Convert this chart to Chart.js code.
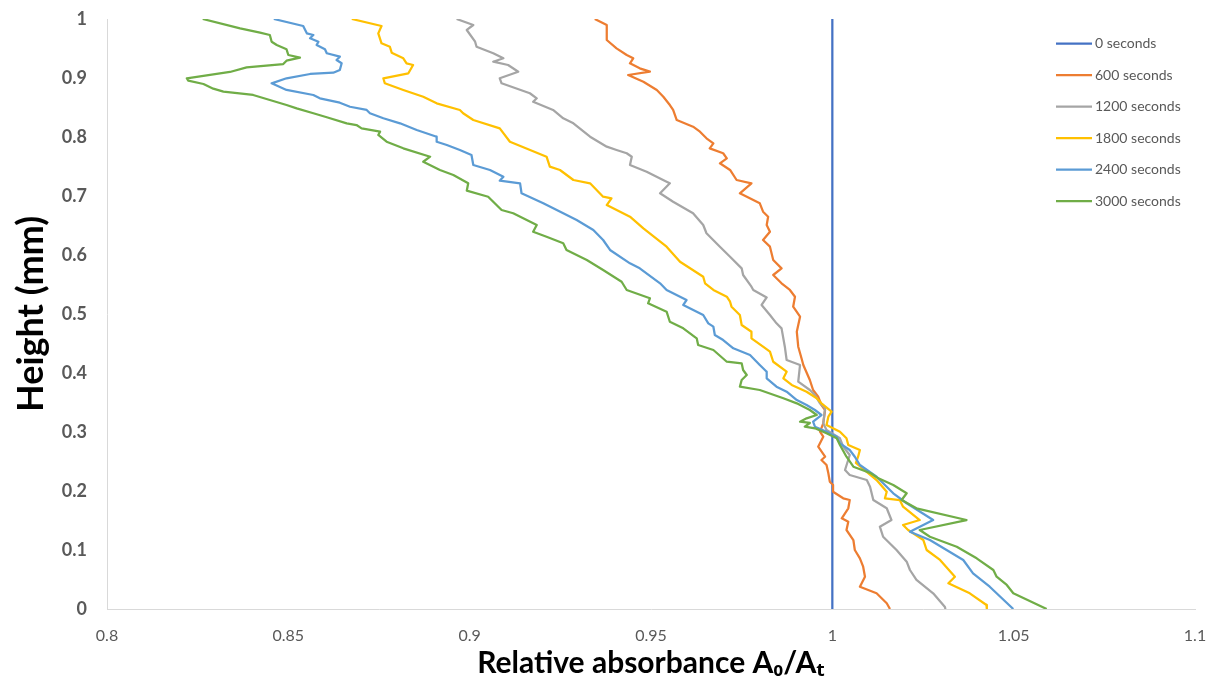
<!DOCTYPE html>
<html>
<head>
<meta charset="utf-8">
<title>Relative absorbance profiles</title>
<script src="https://cdn.jsdelivr.net/npm/chart.js@4.4.1/dist/chart.umd.min.js"></script>
<style>
  html, body { margin: 0; padding: 0; background: #ffffff; }
  #chart { display: block; }
</style>
</head>
<body>
<canvas id="chart" width="1215" height="682"></canvas>
<script>
// Each series: [relative absorbance A0/At, height (mm)] pairs, top to bottom.
const seriesLabels = ['0 seconds', '600 seconds', '1200 seconds', '1800 seconds', '2400 seconds', '3000 seconds'];
const seriesColors = ['#4472C4', '#ED7D31', '#A5A5A5', '#FFC000', '#5B9BD5', '#70AD47'];

const xTickValues = [0.8, 0.85, 0.9, 0.95, 1, 1.05, 1.1];
const yTickValues = [0, 0.1, 0.2, 0.3, 0.4, 0.5, 0.6, 0.7, 0.8, 0.9, 1];

const t0 = [[1, 1], [1, 0]];

const t600 = [
  [0.9345,1.0],[0.9378,0.9898],[0.9378,0.9644],[0.9405,0.9503],[0.9433,0.9390],[0.9451,0.9334],
  [0.9442,0.9249],[0.9469,0.9164],[0.9497,0.9107],[0.9437,0.9051],[0.9479,0.8937],[0.9516,0.8797],
  [0.9534,0.8683],[0.9552,0.8542],[0.9561,0.8458],[0.9571,0.8288],[0.9616,0.8175],[0.9635,0.8090],
  [0.9653,0.7978],[0.9672,0.7893],[0.9662,0.7808],[0.9699,0.7724],[0.9709,0.7639],[0.9690,0.7554],
  [0.9718,0.7441],[0.9736,0.7271],[0.9777,0.7215],[0.9745,0.7046],[0.9800,0.6876],[0.9809,0.6734],
  [0.9823,0.6649],[0.9819,0.6508],[0.9828,0.6395],[0.9809,0.6254],[0.9828,0.6141],[0.9837,0.5915],
  [0.9860,0.5774],[0.9837,0.5661],[0.9860,0.5520],[0.9883,0.5407],[0.9897,0.5293],[0.9892,0.5124],
  [0.9911,0.4954],[0.9902,0.4700],[0.9906,0.4446],[0.9915,0.4249],[0.9920,0.4136],[0.9938,0.3881],
  [0.9947,0.3712],[0.9961,0.3598],[0.9970,0.3458],[0.9980,0.3373],[0.9975,0.3147],[0.9966,0.3005],
  [0.9975,0.2920],[0.9961,0.2751],[0.9980,0.2581],[0.9970,0.2525],[0.9984,0.2441],[0.9989,0.2300],
  [0.9993,0.2158],[1.0002,0.2102],[1.0002,0.1988],[1.0030,0.1876],[1.0048,0.1847],[1.0044,0.1707],
  [1.0026,0.1537],[1.0044,0.1480],[1.0039,0.1339],[1.0058,0.1169],[1.0062,0.1000],[1.0076,0.0859],
  [1.0085,0.0717],[1.0090,0.0547],[1.0076,0.0378],[1.0122,0.0266],[1.0150,0.0097],[1.0159,0]
];

const t1200 = [
  [0.8964,1.0],[0.9010,0.9898],[0.8992,0.9814],[0.9015,0.9615],[0.9019,0.9530],[0.9065,0.9419],
  [0.9093,0.9334],[0.9065,0.9276],[0.9106,0.9220],[0.9134,0.9107],[0.9083,0.8995],[0.9088,0.8910],
  [0.9166,0.8741],[0.9185,0.8656],[0.9175,0.8598],[0.9230,0.8458],[0.9258,0.8317],[0.9286,0.8232],
  [0.9332,0.8005],[0.9378,0.7836],[0.9405,0.7780],[0.9433,0.7724],[0.9447,0.7666],[0.9442,0.7525],
  [0.9488,0.7412],[0.9543,0.7242],[0.9552,0.7215],[0.9525,0.7046],[0.9561,0.6903],[0.9616,0.6707],
  [0.9644,0.6508],[0.9653,0.6368],[0.9690,0.6141],[0.9718,0.5971],[0.9750,0.5774],[0.9754,0.5661],
  [0.9777,0.5463],[0.9782,0.5407],[0.9819,0.5280],[0.9805,0.5153],[0.9828,0.4983],[0.9846,0.4842],
  [0.9860,0.4757],[0.9869,0.4446],[0.9874,0.4220],[0.9911,0.4136],[0.9906,0.3853],[0.9938,0.3712],
  [0.9952,0.3627],[0.9966,0.3486],[0.9980,0.3402],[0.9975,0.3147],[0.9984,0.3034],[1.0021,0.2893],
  [1.0030,0.2751],[1.0048,0.2610],[1.0035,0.2356],[1.0048,0.2271],[1.0095,0.2186],[1.0104,0.2073],
  [1.0113,0.1847],[1.0150,0.1707],[1.0163,0.1508],[1.0131,0.1395],[1.0140,0.1225],[1.0177,0.1000],
  [1.0205,0.0802],[1.0214,0.0661],[1.0232,0.0492],[1.0278,0.0266],[1.0310,0.0039],[1.0312,0]
];

const t1800 = [
  [0.8675,1.0],[0.8757,0.9881],[0.8748,0.9757],[0.8757,0.9588],[0.8780,0.9530],[0.8785,0.9429],
  [0.8817,0.9334],[0.8826,0.9249],[0.8844,0.9220],[0.8831,0.9080],[0.8762,0.8995],[0.8766,0.8910],
  [0.8817,0.8797],[0.8872,0.8683],[0.8909,0.8571],[0.8973,0.8458],[0.8982,0.8402],[0.9010,0.8288],
  [0.9083,0.8147],[0.9111,0.7920],[0.9212,0.7666],[0.9221,0.7497],[0.9249,0.7441],[0.9286,0.7271],
  [0.9332,0.7215],[0.9368,0.6988],[0.9391,0.6961],[0.9378,0.6847],[0.9442,0.6649],[0.9479,0.6452],
  [0.9543,0.6141],[0.9580,0.5886],[0.9644,0.5632],[0.9649,0.5520],[0.9672,0.5407],[0.9709,0.5293],
  [0.9718,0.5208],[0.9722,0.5124],[0.9745,0.4983],[0.9750,0.4814],[0.9777,0.4700],[0.9777,0.4588],
  [0.9809,0.4446],[0.9828,0.4361],[0.9837,0.4191],[0.9874,0.4022],[0.9865,0.3910],[0.9888,0.3797],
  [0.9929,0.3683],[0.9957,0.3571],[0.9970,0.3486],[0.9998,0.3344],[0.9989,0.3259],[0.9984,0.3119],
  [1.0021,0.3005],[1.0039,0.2893],[1.0044,0.2780],[1.0076,0.2695],[1.0071,0.2581],[1.0065,0.2475],
  [1.0122,0.2186],[1.0150,0.1988],[1.0145,0.1876],[1.0186,0.1847],[1.0195,0.1734],[1.0241,0.1508],
  [1.0195,0.1424],[1.0209,0.1339],[1.0251,0.1169],[1.0260,0.1000],[1.0297,0.0831],[1.0338,0.0547],
  [1.0320,0.0436],[1.0379,0.0266],[1.0425,0.0068],[1.0426,0]
];

const t2400 = [
  [0.8460,1.0],[0.8541,0.9881],[0.8551,0.9757],[0.8569,0.9729],[0.8560,0.9673],[0.8583,0.9615],
  [0.8578,0.9559],[0.8601,0.9486],[0.8606,0.9419],[0.8642,0.9361],[0.8633,0.9305],[0.8647,0.9249],
  [0.8642,0.9136],[0.8624,0.9090],[0.8560,0.9068],[0.8495,0.8995],[0.8454,0.8910],[0.8495,0.8797],
  [0.8569,0.8712],[0.8587,0.8656],[0.8642,0.8581],[0.8670,0.8513],[0.8716,0.8458],[0.8725,0.8402],
  [0.8762,0.8317],[0.8808,0.8232],[0.8854,0.8119],[0.8909,0.8005],[0.8909,0.7920],[0.8937,0.7864],
  [0.8973,0.7780],[0.9005,0.7695],[0.9010,0.7525],[0.9056,0.7441],[0.9093,0.7327],[0.9083,0.7259],
  [0.9139,0.7215],[0.9143,0.7046],[0.9203,0.6876],[0.9258,0.6707],[0.9295,0.6593],[0.9341,0.6424],
  [0.9368,0.6254],[0.9387,0.6085],[0.9442,0.5859],[0.9469,0.5774],[0.9525,0.5520],[0.9543,0.5407],
  [0.9598,0.5237],[0.9589,0.5153],[0.9644,0.4983],[0.9658,0.4842],[0.9672,0.4785],[0.9676,0.4644],
  [0.9699,0.4559],[0.9727,0.4419],[0.9773,0.4305],[0.9800,0.4136],[0.9819,0.4022],[0.9819,0.3910],
  [0.9846,0.3768],[0.9874,0.3683],[0.9902,0.3542],[0.9929,0.3458],[0.9952,0.3373],[0.9970,0.3288],
  [0.9947,0.3175],[0.9952,0.3090],[0.9984,0.3005],[1.0012,0.2920],[1.0021,0.2808],[1.0048,0.2695],
  [1.0062,0.2581],[1.0076,0.2441],[1.0122,0.2242],[1.0168,0.1961],[1.0205,0.1792],[1.0278,0.1508],
  [1.0214,0.1310],[1.0269,0.1169],[1.0315,0.1000],[1.0361,0.0831],[1.0388,0.0605],[1.0434,0.0378],
  [1.0499,0]
];

const t3000 = [
  [0.8264,1.0],[0.8367,0.9842],[0.8422,0.9768],[0.8449,0.9729],[0.8454,0.9615],[0.8468,0.9559],
  [0.8495,0.9486],[0.8500,0.9390],[0.8532,0.9344],[0.8495,0.9293],[0.8486,0.9237],[0.8385,0.9181],
  [0.8339,0.9102],[0.8220,0.8995],[0.8224,0.8954],[0.8266,0.8898],[0.8293,0.8819],[0.8321,0.8768],
  [0.8403,0.8712],[0.8449,0.8627],[0.8495,0.8542],[0.8523,0.8486],[0.8569,0.8402],[0.8606,0.8334],
  [0.8661,0.8232],[0.8688,0.8203],[0.8702,0.8147],[0.8753,0.8090],[0.8748,0.8034],[0.8771,0.7920],
  [0.8817,0.7808],[0.8891,0.7666],[0.8872,0.7581],[0.8918,0.7441],[0.8955,0.7356],[0.8996,0.7215],
  [0.8992,0.7090],[0.9051,0.6988],[0.9088,0.6763],[0.9120,0.6707],[0.9185,0.6508],[0.9175,0.6395],
  [0.9212,0.6310],[0.9258,0.6198],[0.9267,0.6085],[0.9323,0.5915],[0.9368,0.5746],[0.9419,0.5547],
  [0.9433,0.5407],[0.9497,0.5266],[0.9492,0.5181],[0.9543,0.5039],[0.9552,0.4869],[0.9589,0.4757],
  [0.9626,0.4588],[0.9630,0.4475],[0.9672,0.4390],[0.9709,0.4191],[0.9750,0.4164],[0.9754,0.4051],
  [0.9764,0.3966],[0.9750,0.3881],[0.9745,0.3768],[0.9800,0.3712],[0.9865,0.3571],[0.9902,0.3486],
  [0.9938,0.3373],[0.9957,0.3288],[0.9929,0.3232],[0.9911,0.3175],[0.9938,0.3153],[0.9924,0.3090],
  [0.9952,0.3063],[0.9984,0.2978],[1.0012,0.2893],[1.0021,0.2780],[1.0039,0.2581],[1.0058,0.2412],
  [1.0106,0.2300],[1.0127,0.2215],[1.0168,0.2102],[1.0205,0.1961],[1.0191,0.1847],[1.0232,0.1707],
  [1.0370,0.1508],[1.0241,0.1339],[1.0269,0.1225],[1.0343,0.1056],[1.0398,0.0859],[1.0444,0.0661],
  [1.0453,0.0547],[1.0481,0.0407],[1.0499,0.0266],[1.0591,0]
];

const seriesPoints = [t0, t600, t1200, t1800, t2400, t3000];

const FONT = 'Lato, "Open Sans", "DejaVu Sans", sans-serif';
const TEXT_GREY = '#595959';
const AXIS_GREY = '#d9d9d9';

// Legend drawn inside the plot area, top right, as short line swatches.
const insideLegend = {
  id: 'insideLegend',
  afterDraw(chart) {
    const ctx = chart.ctx;
    const x0 = 1056, x1 = 1092, tx = 1095, y0 = 43.5, step = 31.5;
    ctx.save();
    ctx.font = '14px ' + FONT;
    ctx.textBaseline = 'middle';
    ctx.textAlign = 'left';
    chart.data.datasets.forEach((ds, i) => {
      const y = y0 + i * step;
      ctx.strokeStyle = ds.borderColor;
      ctx.lineWidth = 2.25;
      ctx.beginPath();
      ctx.moveTo(x0, y);
      ctx.lineTo(x1, y);
      ctx.stroke();
      ctx.fillStyle = TEXT_GREY;
      ctx.fillText(ds.label, tx, y);
    });
    ctx.restore();
  }
};

const datasets = seriesPoints.map((pts, i) => ({
  label: seriesLabels[i],
  data: pts.map(p => ({ x: p[0], y: p[1] })),
  borderColor: seriesColors[i],
  backgroundColor: seriesColors[i],
  borderWidth: 2.25,
  showLine: true,
  pointRadius: 0,
  tension: 0,
  borderJoinStyle: 'round',
  borderCapStyle: 'butt',
  order: seriesPoints.length - i
}));

// Fixed axis boxes so the plot area spans x 107..1195 and y 19..609.
function fitX(s) {
  s.height = 73;
  s.paddingLeft = 0;
  s.paddingRight = 0;
}
function fitY(s) {
  s.width = 107;
  s.paddingTop = 0;
  s.paddingBottom = 0;
}

new Chart(document.getElementById('chart'), {
  type: 'scatter',
  data: { datasets },
  plugins: [insideLegend],
  options: {
    responsive: false,
    animation: false,
    events: [],
    layout: { padding: { top: 19, right: 20, left: 0, bottom: 0 } },
    plugins: { legend: { display: false }, tooltip: { enabled: false } },
    scales: {
      x: {
        type: 'linear',
        min: 0.8,
        max: 1.1,
        afterBuildTicks: s => { s.ticks = xTickValues.map(v => ({ value: v })); },
        afterFit: fitX,
        grid: { display: true, drawOnChartArea: false, drawTicks: false },
        border: { display: true, color: AXIS_GREY, width: 1 },
        ticks: {
          padding: 17,
          color: TEXT_GREY,
          font: { family: FONT, size: 16 },
          callback: v => String(v)
        },
        title: {
          display: true,
          text: 'Relative absorbance A\u2080/A\u209C',
          color: '#000000',
          font: { family: FONT, size: 30, weight: 'bold' },
          padding: { top: 0, bottom: 1 }
        }
      },
      y: {
        type: 'linear',
        min: 0,
        max: 1,
        afterBuildTicks: s => { s.ticks = yTickValues.map(v => ({ value: v })); },
        afterFit: fitY,
        grid: { display: true, drawOnChartArea: false, drawTicks: false },
        border: { display: true, color: AXIS_GREY, width: 1 },
        ticks: {
          padding: 20,
          color: TEXT_GREY,
          font: { family: FONT, size: 18, weight: 'bold' },
          callback: v => String(v)
        },
        title: {
          display: true,
          text: 'Height (mm)',
          color: '#000000',
          font: { family: FONT, size: 36, weight: 'bold' },
          padding: { top: 9.5, bottom: 0 }
        }
      }
    }
  }
});
</script>
</body>
</html>
